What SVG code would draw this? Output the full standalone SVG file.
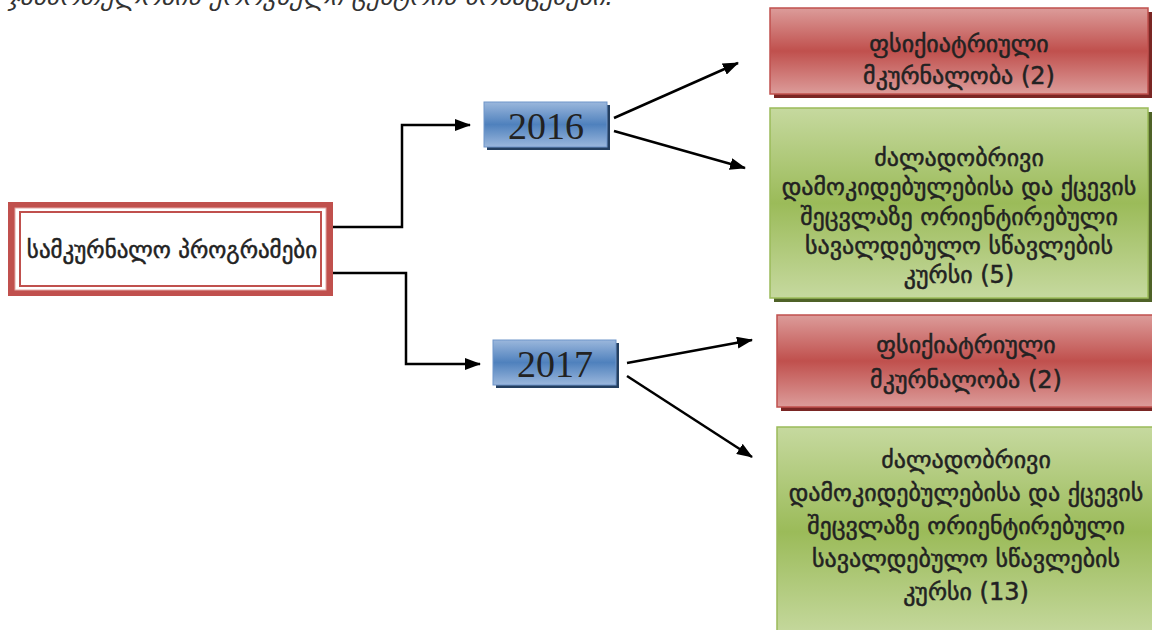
<svg xmlns="http://www.w3.org/2000/svg" width="1152" height="630" viewBox="0 0 1152 630">
<defs>
<linearGradient id="gRed" x1="0" y1="0" x2="0" y2="1">
<stop offset="0" stop-color="#dc9c9a"/><stop offset="0.5" stop-color="#c0504d"/><stop offset="1" stop-color="#dc9c9a"/>
</linearGradient>
<linearGradient id="gGreen" x1="0" y1="0" x2="0" y2="1">
<stop offset="0" stop-color="#c6d99f"/><stop offset="0.5" stop-color="#9bbb59"/><stop offset="1" stop-color="#c6d99f"/>
</linearGradient>
<linearGradient id="gBlue" x1="0" y1="0" x2="0" y2="1">
<stop offset="0" stop-color="#9bb7dc"/><stop offset="0.5" stop-color="#4f81bd"/><stop offset="1" stop-color="#9bb7dc"/>
</linearGradient>
<marker id="arrL" markerWidth="16" markerHeight="12" refX="15" refY="6" orient="auto" markerUnits="userSpaceOnUse" viewBox="0 0 16 12">
<path d="M0,0 L16,6 L0,12 z" fill="#000"/>
</marker>
</defs>
<style>
.geo{font-family:"DejaVu Sans","Noto Sans",sans-serif;fill:#222;text-anchor:middle;stroke:#222;stroke-width:0.5}
.box{font-size:24px}
.yr{font-family:"Liberation Serif","Times New Roman",serif;font-size:38px;fill:#222;text-anchor:middle}
.con{fill:none;stroke:#000;stroke-width:2.5}
</style>
<rect width="1152" height="630" fill="#fff"/>
<text x="8" y="5" font-family="DejaVu Sans, sans-serif" font-style="italic" font-size="24" fill="#333" textLength="606" lengthAdjust="spacingAndGlyphs">ჯანმრთელობის ეროვნული ცენტრის მონაცემები:</text>

<g id="connectors">
<path class="con" d="M326,227 H402 V125 H470" marker-end="url(#arrL)"/>
<path class="con" d="M326,273 H406 V364 H480" marker-end="url(#arrL)"/>
<path class="con" d="M614,118 L738,63" marker-end="url(#arrL)"/>
<path class="con" d="M614,131 L745,168" marker-end="url(#arrL)"/>
<path class="con" d="M627,363 L752,340" marker-end="url(#arrL)"/>
<path class="con" d="M627,376 L752,457" marker-end="url(#arrL)"/>
</g>

<g id="main">
<rect x="8" y="202" width="325" height="94" fill="#c0504d"/>
<rect x="15" y="208" width="311" height="82" fill="#fff" stroke="#e3a7a5" stroke-width="1"/>
<rect x="20" y="212" width="301" height="74" fill="#fff" stroke="#c0504d" stroke-width="2"/>
<text class="geo" x="172" y="258" font-size="23">სამკურნალო პროგრამები</text>
</g>

<g id="y2016">
<rect x="487" y="105" width="123" height="45" fill="#243f60"/>
<rect x="484" y="102" width="123" height="45" fill="url(#gBlue)" stroke="#6f95c9" stroke-width="1"/>
<text class="yr" x="546" y="139">2016</text>
</g>

<g id="y2017">
<rect x="496" y="343" width="123" height="45" fill="#243f60"/>
<rect x="493" y="340" width="123" height="45" fill="url(#gBlue)" stroke="#6f95c9" stroke-width="1"/>
<text class="yr" x="555" y="377">2017</text>
</g>

<g id="psy2016">
<rect x="774" y="12" width="378" height="86" fill="#7a2624"/>
<rect x="770" y="8" width="378" height="86" fill="url(#gRed)" stroke="#c0504d" stroke-width="1.5"/>
<text class="geo box" x="959" y="52">ფსიქიატრიული</text>
<text class="geo box" x="959" y="84">მკურნალობა (2)</text>
</g>

<g id="course2016">
<rect x="774" y="112" width="378" height="190" fill="#4f6228"/>
<rect x="770" y="108" width="378" height="190" fill="url(#gGreen)" stroke="#9bbb59" stroke-width="1.5"/>
<text class="geo box" x="959" y="166">ძალადობრივი</text>
<text class="geo box" x="959" y="195">დამოკიდებულებისა და ქცევის</text>
<text class="geo box" x="959" y="225">შეცვლაზე ორიენტირებული</text>
<text class="geo box" x="959" y="254">სავალდებულო სწავლების</text>
<text class="geo box" x="959" y="283">კურსი (5)</text>
</g>

<g id="psy2017">
<rect x="781" y="319" width="378" height="92" fill="#7a2624"/>
<rect x="777" y="315" width="378" height="92" fill="url(#gRed)" stroke="#c0504d" stroke-width="1.5"/>
<text class="geo box" x="966" y="353">ფსიქიატრიული</text>
<text class="geo box" x="966" y="388">მკურნალობა (2)</text>
</g>

<g id="course2017">
<rect x="777" y="427" width="378" height="210" fill="url(#gGreen)" stroke="#9bbb59" stroke-width="1.5"/>
<text class="geo box" x="966" y="468">ძალადობრივი</text>
<text class="geo box" x="966" y="501">დამოკიდებულებისა და ქცევის</text>
<text class="geo box" x="966" y="534">შეცვლაზე ორიენტირებული</text>
<text class="geo box" x="966" y="567">სავალდებულო სწავლების</text>
<text class="geo box" x="966" y="600">კურსი (13)</text>
</g>
</svg>
